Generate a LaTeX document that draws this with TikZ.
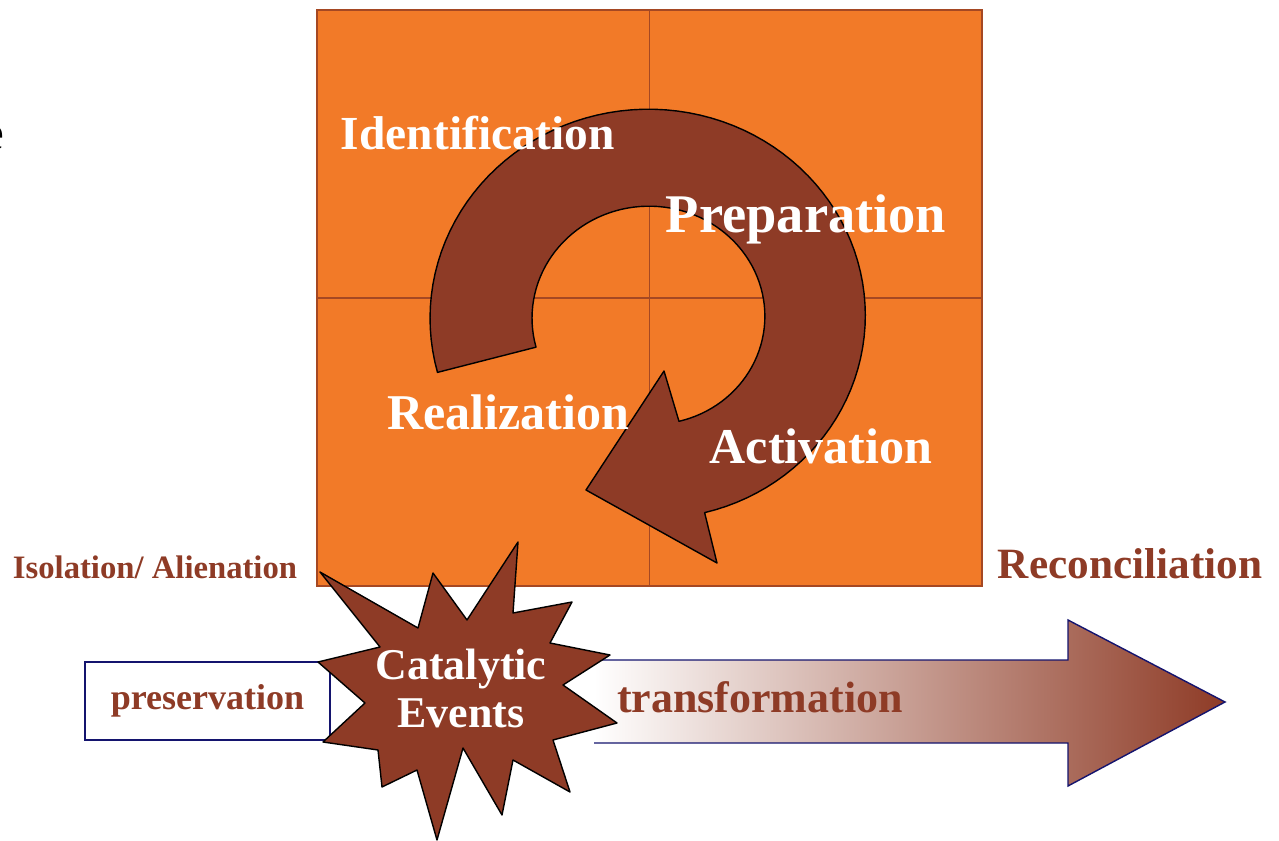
\documentclass[tikz,border=0pt]{standalone}
\usepackage{fontspec}
\setmainfont{Liberation Serif}
\definecolor{boxorange}{RGB}{242,122,40}
\definecolor{rust}{RGB}{142,59,38}
\definecolor{gridbrown}{RGB}{165,72,35}
\definecolor{navyline}{RGB}{20,20,110}

\begin{document}
\begin{tikzpicture}[x=0.02cm,y=-0.02cm,
	declare function={cx=650;cy=318;k=0.955;ro(\t)=220-9*((195-\t)/270)^2;ri(\t)=118-6*((195-\t)/270)^2;},
	lab/.style={inner sep=0,anchor=base,text=white,font=\bfseries\fontsize{#1}{#1}\selectfont},
	side/.style={inner sep=0,anchor=base,text=rust,font=\bfseries\fontsize{#1}{#1}\selectfont}]
		\useasboundingbox (0,0) rectangle (1279,841);
		\node[anchor=base east,inner sep=0,font=\fontsize{28}{28}\selectfont] (cut) at (5,150) {e};
		% the four fields
		\node[draw=gridbrown,fill=boxorange,line width=1.1pt,minimum width=13.3cm,minimum height=11.52cm] (board) at (649.5,298) {};
		\draw[gridbrown,line width=1pt] (board.north)--(board.south) (board.west)--(board.east);
		% cycle arrow
		\draw[fill=rust,line width=0.8pt,line join=round]
			plot[domain=195:-75,samples=90] ({cx+ro(\x)*cos(\x)},{cy-k*ro(\x)*sin(\x)})
			--(717,563)--(586,490)--(664,371)
			--plot[domain=-75:195,samples=90] ({cx+ri(\x)*cos(\x)},{cy-k*ri(\x)*sin(\x)})--cycle;
		\node[lab=27] (ident) at (478,150) {Identification};
		\node[lab=31] (prep) at (806,233) {Preparation};
		\node[lab=28.5] (real) at (508,430) {Realization};
		\node[lab=28.5] (activ) at (821,463) {Activation};
		% bottom band
		\node[draw=navyline,fill=white,line width=0.8pt,minimum width=4.9cm,minimum height=1.56cm,inner sep=0,
			text=rust,font=\bfseries\fontsize{20.5}{20.5}\selectfont] (pres) at (207.5,701) {preservation};
		\shade[left color=white,right color=rust] (594,660)--(1068,660)--(1068,620)--(1225,702)--(1068,786)--(1068,743)--(594,743)--cycle;
		\draw[navyline,line width=0.8pt] (594,660)--(1068,660)--(1068,620)--(1225,702)--(1068,786)--(1068,743)--(594,743);
		\node[side=25] (trans) at (760,712) {transformation};
		% burst
		\draw[fill=rust,line width=0.8pt,line join=round] (518,542)--(467,620)--(433,573)--(418,628)--(320,572)--(380,647)--(318,662)
			--(365,703)--(323,742)--(378,750)--(382,787)--(417,770)--(437,840)--(463,748)--(502,815)--(513,760)
			--(570,792)--(553,740)--(617,723)--(563,685)--(610,655)--(550,643)--(572,602)--(513,613)--cycle;
		\node[lab=25] (cat) at (461,679) {Catalytic};
		\node[lab=25] (evt) at (461,727) {Events};
		\node[side=18.6] (iso) at (155,578) {Isolation/ Alienation};
		\node[side=24.6] (recon) at (1130,578) {Reconciliation};
	\end{tikzpicture}
\end{document}
